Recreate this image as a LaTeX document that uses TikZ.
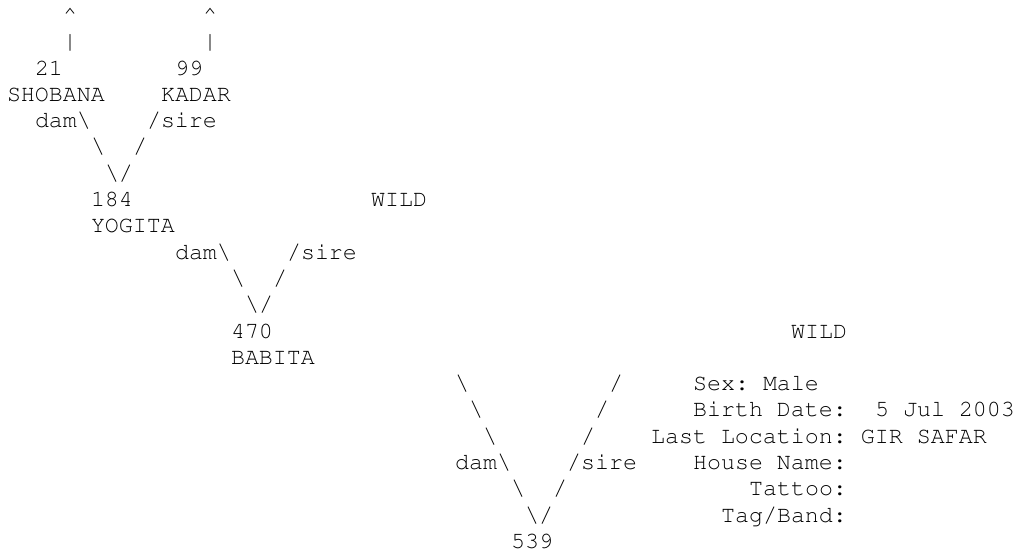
\documentclass[tikz,border=0pt]{standalone}
\usepackage[T1]{fontenc}
\newcommand\asc[4]{\node[txt] (#1) at ({7+14*(#2)},{-(22.4+26.3*(#3))}) {#4};}
\begin{document}
\begin{tikzpicture}[x=1pt,y=1pt,
  txt/.style={anchor=base west, inner sep=0pt, outer sep=0pt, text=black,
    font=\fontencoding{T1}\fontfamily{pcr}\fontseries{m}\fontshape{n}\fontsize{23.33}{26.3}\selectfont\frenchspacing}]
\useasboundingbox (0,0) rectangle (1019,-554);
\asc{upL}{4}{0}{\textasciicircum}
\asc{upR}{14}{0}{\textasciicircum}
\asc{barL}{4}{1}{\textbar}
\asc{barR}{14}{1}{\textbar}
\asc{n21}{2}{2}{21}
\asc{n99}{12}{2}{99}
\asc{shobana}{0}{3}{SHOBANA}
\asc{kadar}{11}{3}{KADAR}
\asc{damA}{2}{4}{dam\textbackslash}
\asc{sireA}{10}{4}{/sire}
\asc{bsA1}{6}{5}{\textbackslash}
\asc{slA1}{9}{5}{/}
\asc{vA}{7}{6}{\textbackslash/}
\asc{n184}{6}{7}{184}
\asc{wildA}{26}{7}{WILD}
\asc{yogita}{6}{8}{YOGITA}
\asc{damB}{12}{9}{dam\textbackslash}
\asc{sireB}{20}{9}{/sire}
\asc{bsB1}{16}{10}{\textbackslash}
\asc{slB1}{19}{10}{/}
\asc{vB}{17}{11}{\textbackslash/}
\asc{n470}{16}{12}{470}
\asc{wildB}{56}{12}{WILD}
\asc{babita}{16}{13}{BABITA}
\asc{bsC1}{32}{14}{\textbackslash}
\asc{slC1}{43}{14}{/}
\asc{sex}{49}{14}{Sex: Male}
\asc{bsC2}{33}{15}{\textbackslash}
\asc{slC2}{42}{15}{/}
\asc{birth}{49}{15}{Birth Date:}
\asc{bdate}{62}{15}{5 Jul 2003}
\asc{bsC3}{34}{16}{\textbackslash}
\asc{slC3}{41}{16}{/}
\asc{loc}{46}{16}{Last Location: GIR SAFAR}
\asc{damC}{32}{17}{dam\textbackslash}
\asc{sireC}{40}{17}{/sire}
\asc{house}{49}{17}{House Name:}
\asc{bsC4}{36}{18}{\textbackslash}
\asc{slC4}{39}{18}{/}
\asc{tattoo}{53}{18}{Tattoo:}
\asc{vC}{37}{19}{\textbackslash/}
\asc{tag}{51}{19}{Tag/Band:}
\asc{n539}{36}{20}{539}
\end{tikzpicture}
\end{document}
